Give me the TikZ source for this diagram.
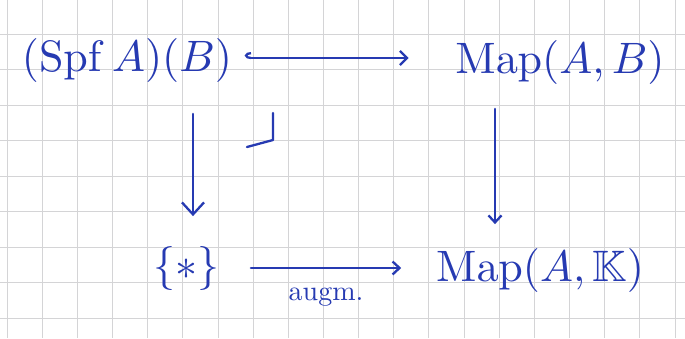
\documentclass[tikz,border=0pt]{standalone}
\usepackage{amsmath,amssymb}
\usetikzlibrary{arrows.meta}
\definecolor{ink}{RGB}{38,58,178}
\definecolor{gridc}{RGB}{212,212,214}
\tikzset{
  gridline/.style={draw=gridc, line width=0.9pt},
  obj/.style={text=ink, inner sep=0pt, scale=4.4},
  lbl/.style={text=ink, inner sep=0pt, scale=2.8},
  arr/.style={draw=ink, line width=2.3pt, line cap=round, -{Straight Barb[length=7pt,width=13pt,line width=2.3pt]}},
  bigarr/.style={draw=ink, line width=2.3pt, line cap=round, -{Straight Barb[length=12pt,width=22pt,line width=2.3pt]}},
  hookarr/.style={draw=ink, line width=2.3pt, line cap=round, {Hooks[right,length=6pt,width=12pt,line width=2.3pt]}-{Straight Barb[length=7pt,width=14pt,line width=2.3pt]}},
  corner/.style={draw=ink, line width=2.3pt, line cap=round, line join=round}
}
\begin{document}
\begin{tikzpicture}[x=1pt,y=-1pt]
\useasboundingbox (0,0) rectangle (685,338);
\fill[white] (0,0) rectangle (685,338);
\foreach \i in {0,...,19} \draw[gridline] ({7+35.16*\i},0) -- ({7+35.16*\i},338);
\foreach \j in {1,...,9} \draw[gridline] (0,{-1.5+35.5*\j}) -- (685,{-1.5+35.5*\j});

\node[obj] (TL) at (127,60) {$(\operatorname{Spf} A)(B)$};
\node[obj] (TR) at (560,62) {$\mathrm{Map}(A,B)$};
\node[obj] (BL) at (186,268) {$\{*\}$};
\node[obj] (BR) at (540,270) {$\mathrm{Map}(A,\mathbb{K})$};

\draw[hookarr] ([xshift=12pt,yshift=2pt]TL.east) -- ([xshift=-46pt,yshift=4pt]TR.west);
\draw[bigarr] ([xshift=66pt,yshift=-31pt]TL.south) -- ([xshift=7pt,yshift=29pt]BL.north);
\draw[arr] ([xshift=-65pt,yshift=-24pt]TR.south) -- ([xshift=-45pt,yshift=23pt]BR.north);
\draw[arr] ([xshift=31pt]BL.east) -- node[lbl, below=6pt] (L) {augm.} ([xshift=-34pt,yshift=2pt]BR.west);

\draw[corner] (247,147) -- (273,140) -- (273,113);
\end{tikzpicture}
\end{document}
